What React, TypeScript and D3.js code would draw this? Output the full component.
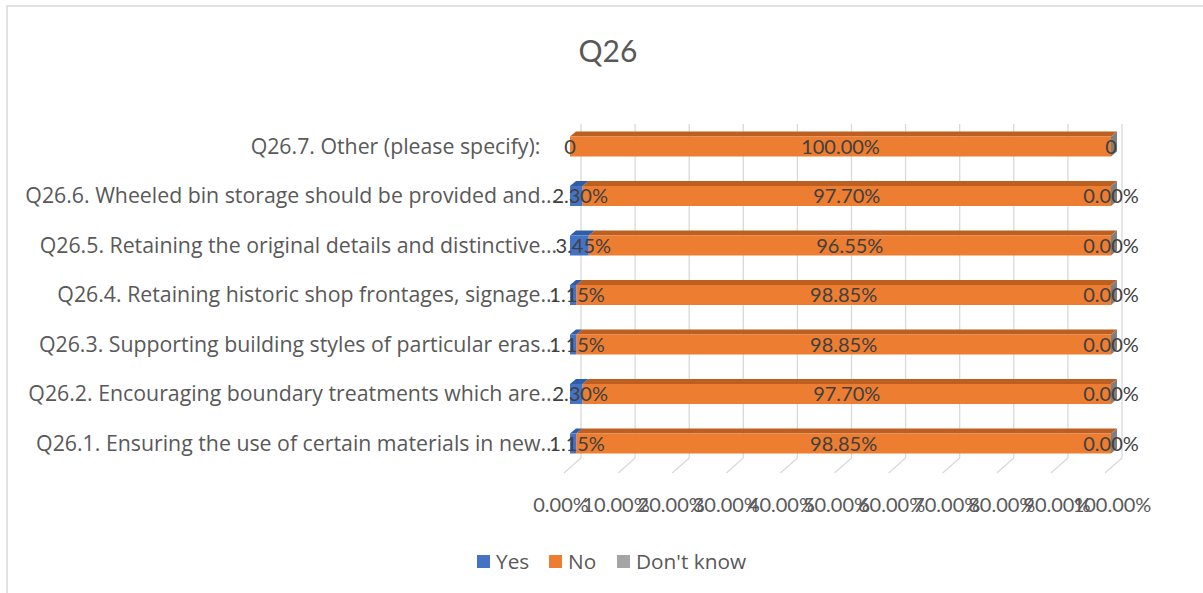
import React from "react";
import * as d3 from "d3";

const categories = [
  "Q26.1. Ensuring the use of certain materials in new…",
  "Q26.2. Encouraging boundary treatments which are…",
  "Q26.3. Supporting building styles of particular eras…",
  "Q26.4. Retaining historic shop frontages, signage…",
  "Q26.5. Retaining the original details and distinctive…",
  "Q26.6. Wheeled bin storage should be provided and…",
  "Q26.7. Other (please specify):\u00A0\u00A0\u00A0",
];
const yesValues = [1.15, 2.3, 1.15, 1.15, 3.45, 2.3, 0];
const noValues = [98.85, 97.7, 98.85, 98.85, 96.55, 97.7, 100];
const dkValues = [0, 0, 0, 0, 0, 0, 0];
const yesLabels = ["1.15%", "2.30%", "1.15%", "1.15%", "3.45%", "2.30%", "0"];
const noLabels = ["98.85%", "97.70%", "98.85%", "98.85%", "96.55%", "97.70%", "100.00%"];
const dkLabels = ["0.00%", "0.00%", "0.00%", "0.00%", "0.00%", "0.00%", "0"];
const ticks = [0, 10, 20, 30, 40, 50, 60, 70, 80, 90, 100];
const seriesNames = ["Yes", "No", "Don't know"];

const W = 1203;
const H = 593;
const FONT = "Lato, 'Open Sans', sans-serif";
const FONT2 = "'Open Sans', Lato, sans-serif";
const front = { yes: "#4472C4", no: "#ED7D31", dk: "#A5A5A5" };
const topC = { yes: "#2F5EA8", no: "#BE5F22", dk: "#7F7F7F" };

export default function App() {
  const xFront = d3.scaleLinear().domain([0, 100]).range([570, 1111]);
  const xBack = d3.scaleLinear().domain([0, 100]).range([581, 1122]);
  const xTick = d3.scaleLinear().domain([0, 100]).range([561, 1112]);
  const yC = d3
    .scalePoint<number>()
    .domain(d3.range(categories.length))
    .range([443.5, 146.5]);
  const barH = 20;
  const dx = 6;
  const dy = 5;
  const floorBackY = 458;
  const floorDx = 17;
  const floorDy = 15;
  const wallTop = 124;

  const para = (x0: number, x1: number, y: number) =>
    `M${x0},${y} L${x0 + dx},${y - dy} L${x1 + dx},${y - dy} L${x1},${y} Z`;

  return (
    <svg
      width={W}
      height={H}
      style={{ position: "absolute", left: 0, top: 0, background: "#fff" }}
    >
      <rect x={7} y={6} width={W} height={H} fill="#fff" stroke="#d9d9d9" strokeWidth={1.5} />
      <text x={608} y={62} textAnchor="middle" fontFamily={FONT} fontSize={30} fill="#595959">
        Q26
      </text>

      {ticks.map((t) => (
        <g key={t}>
          <line
            x1={xBack(t)}
            x2={xBack(t)}
            y1={wallTop}
            y2={floorBackY}
            stroke="#d9d9d9"
            strokeWidth={1.3}
          />
          <line
            x1={xBack(t)}
            x2={xBack(t) - floorDx}
            y1={floorBackY}
            y2={floorBackY + floorDy}
            stroke="#d9d9d9"
            strokeWidth={1.3}
          />
          <text
            x={xTick(t)}
            y={512}
            textAnchor="middle"
            fontFamily={FONT}
            fontSize={20}
            fill="#595959"
          >
            {d3.format(".2f")(t) + "%"}
          </text>
        </g>
      ))}

      {categories.map((c, i) => {
        const yc = yC(i) as number;
        const top = yc - barH / 2;
        const y0 = yesValues[i];
        const n = noValues[i];
        const k = dkValues[i];
        const xs = [xFront(0), xFront(y0), xFront(y0 + n), xFront(y0 + n + k)];
        return (
          <g key={i}>
            <text
              x={557}
              y={yc + 7}
              textAnchor="end"
              fontFamily={FONT2}
              fontSize={21.3}
              fill="#595959"
            >
              {c}
            </text>
            <path d={para(xs[1], xs[2], top)} fill={topC.no} />
            <rect x={xs[1]} y={top} width={xs[2] - xs[1]} height={barH} fill={front.no} />
            {y0 > 0 && (
              <>
                <path d={para(xs[0], xs[1], top)} fill={topC.yes} />
                <rect x={xs[0]} y={top} width={xs[1] - xs[0]} height={barH} fill={front.yes} />
              </>
            )}
            <path
              d={`M${xs[3]},${top} L${xs[3] + dx},${top - dy} L${xs[3] + dx},${top + barH - dy} L${xs[3]},${top + barH} Z`}
              fill={topC.dk}
            />
            <text
              x={y0 > 0 ? (xs[0] + xs[1]) / 2 + 4 : xs[0]}
              y={yc + 7}
              textAnchor="middle"
              fontFamily={FONT}
              fontSize={20}
              fill="#404040"
            >
              {yesLabels[i]}
            </text>
            <text
              x={(xs[1] + xs[2]) / 2}
              y={yc + 7}
              textAnchor="middle"
              fontFamily={FONT}
              fontSize={20}
              fill="#404040"
            >
              {noLabels[i]}
            </text>
            <text
              x={xs[3]}
              y={yc + 7}
              textAnchor="middle"
              fontFamily={FONT}
              fontSize={20}
              fill="#404040"
            >
              {dkLabels[i]}
            </text>
          </g>
        );
      })}

      {seriesNames.map((s, i) => {
        const lx = [477, 549, 617][i];
        const col = [front.yes, front.no, front.dk][i];
        return (
          <g key={s}>
            <rect x={lx} y={555} width={13} height={13} fill={col} />
            <text x={lx + 19} y={569} fontFamily={FONT2} fontSize={20.8} fill="#595959">
              {s}
            </text>
          </g>
        );
      })}
    </svg>
  );
}
